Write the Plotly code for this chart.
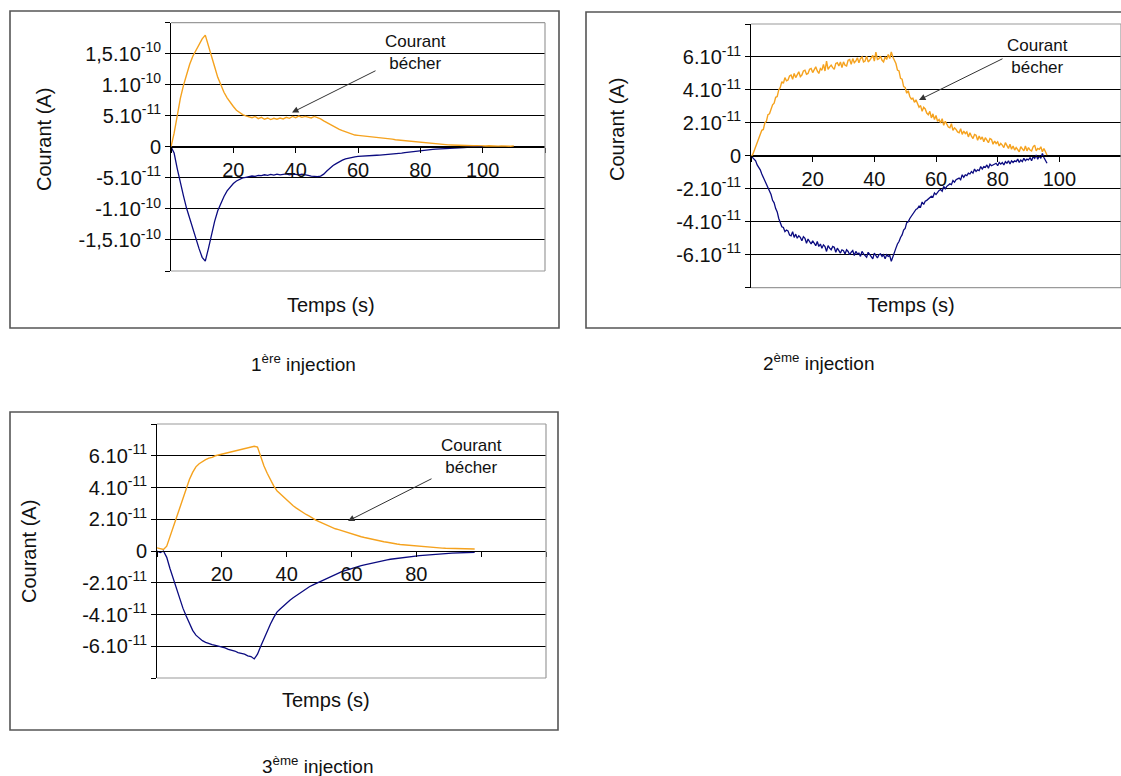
import plotly.graph_objects as go

W, H = 1121, 776
FONT = "Liberation Sans, Arial, sans-serif"
ORANGE = "#F5A21E"
NAVY = "#0B0B80"

# ---------------- data (current in units of 1e-11 A) ----------------
# Panel 1 : 1st injection, sampled every 1 s
STEP_1 = 1.0
ORANGE_1 = [
    0, 2.2, 5.0, 7.8, 9.9, 11.8, 13.3, 14.6, 15.5, 16.4,
    17.4, 18.0, 16.4, 14.6, 12.9, 11.2, 9.9, 8.8, 7.9, 7.1,
    6.5, 5.9, 5.5, 5.2, 5.0, 4.9, 4.7, 4.9, 4.55, 4.75,
    4.45, 4.65, 4.4, 4.6, 4.45, 4.65, 4.5, 4.75, 4.6, 4.9,
    4.7, 4.95, 4.75, 4.9, 4.8, 4.65, 4.9, 4.75, 4.5, 4.2,
    3.9, 3.6, 3.3, 3.1, 2.8, 2.6, 2.4, 2.2, 2.1, 1.9,
    1.85, 1.8, 1.75, 1.7, 1.6, 1.55, 1.6, 1.5, 1.45, 1.4,
    1.3, 1.25, 1.15, 1.1, 1.0, 0.95, 0.88, 0.82, 0.76, 0.7,
    0.65, 0.6, 0.56, 0.5, 0.48, 0.44, 0.4, 0.38, 0.34, 0.32,
    0.3, 0.27, 0.26, 0.24, 0.22, 0.2, 0.23, 0.18, 0.2, 0.16,
    0.19, 0.14, 0.17, 0.13, 0.16, 0.11, 0.15, 0.12, 0.14, 0.1, 0.15,
]
NAVY_1 = [
    0, -1.0, -3.5, -5.9, -7.9, -9.9, -11.6, -13.2, -14.8, -16.4,
    -17.8, -18.4, -16.4, -14.0, -12.0, -10.3, -9.0, -8.0, -7.1, -6.4,
    -5.9, -5.5, -5.2, -5.0, -4.9, -4.8, -4.7, -4.75, -4.6, -4.65,
    -4.5, -4.6, -4.45, -4.55, -4.4, -4.5, -4.45, -4.35, -4.5, -4.4,
    -4.45, -4.5, -4.4, -4.55, -4.6, -4.7, -4.75, -4.8, -4.7, -4.4,
    -3.9, -3.4, -3.0, -2.7, -2.4, -2.15, -1.95, -1.8, -1.7, -1.6,
    -1.55, -1.5, -1.52, -1.45, -1.42, -1.4, -1.35, -1.33, -1.3, -1.25,
    -1.2, -1.15, -1.1, -1.05, -1.0, -0.92, -0.85, -0.78, -0.72, -0.65,
    -0.6, -0.55, -0.5, -0.45, -0.4, -0.36, -0.32, -0.28, -0.25, -0.22,
    -0.2, -0.18, -0.16, -0.14, -0.12, -0.1, -0.09, -0.08, -0.07, -0.06,
    -0.05,
]

# Panel 2 : 2nd injection, sampled every 0.5 s
STEP_2 = 0.5
ORANGE_2 = [
    0.0, 0.05, 0.3, 0.55, 0.7, 1.05, 1.2, 1.55, 1.6, 2.0,
    2.1, 2.5, 2.55, 2.9, 3.1, 3.2, 3.55, 3.6, 4.0, 4.15,
    4.5, 4.4, 4.75, 4.55, 4.6, 4.85, 4.9, 4.65, 5.0, 4.75,
    4.95, 5.1, 4.8, 4.9, 5.15, 5.2, 4.95, 5.0, 5.25, 5.3,
    5.05, 5.25, 5.4, 5.15, 5.0, 5.3, 5.2, 5.55, 5.15, 5.75,
    5.25, 5.4, 5.5, 5.35, 5.25, 5.6, 5.65, 5.45, 5.7, 5.35,
    5.7, 5.5, 5.45, 5.8, 5.85, 5.55, 5.9, 5.65, 5.75, 5.95,
    5.65, 5.9, 6.0, 5.7, 5.75, 6.05, 5.7, 5.8, 6.0, 6.1,
    5.75, 6.3, 5.85, 5.9, 6.05, 5.8, 5.7, 6.0, 5.85, 6.15,
    5.9, 6.3, 6.0, 5.75, 5.6, 5.2, 5.15, 4.7, 4.65, 4.2,
    4.15, 3.8, 3.95, 3.6, 3.45, 3.5, 3.25, 3.4, 3.1, 2.95,
    3.05, 2.7, 2.95, 2.85, 2.6, 2.5, 2.7, 2.3, 2.55, 2.2,
    2.45, 2.1, 2.2, 2.0, 2.25, 1.85, 2.1, 1.95, 1.75, 1.7,
    1.95, 1.55, 1.7, 1.6, 1.45, 1.4, 1.65, 1.3, 1.5, 1.35,
    1.45, 1.15, 1.4, 1.2, 1.05, 1.3, 1.25, 0.95, 1.2, 1.0,
    1.15, 0.85, 1.1, 0.95, 0.8, 1.05, 1.0, 0.7, 0.9, 0.75,
    0.85, 0.6, 0.75, 0.65, 0.5, 0.8, 0.6, 0.45, 0.7, 0.4,
    0.6, 0.35, 0.5, 0.4, 0.25, 0.55, 0.45, 0.3, 0.6, 0.3,
    0.5, 0.35, 0.3, 0.55, 0.65, 0.3, 0.45, 0.4, 0.55, 0.25,
    0.45, 0.2, 0.05,
]
NAVY_2 = [
    0.0, -0.1, -0.25, -0.3, -0.55, -0.7, -0.85, -1.1, -1.3, -1.5,
    -1.75, -1.9, -2.2, -2.35, -2.7, -2.85, -3.2, -3.4, -3.8, -4.0,
    -4.3, -4.35, -4.6, -4.5, -4.55, -4.8, -4.85, -4.6, -4.95, -4.75,
    -5.0, -4.85, -4.95, -5.15, -4.9, -5.0, -5.3, -5.05, -5.2, -5.35,
    -5.15, -5.3, -5.45, -5.2, -5.5, -5.35, -5.6, -5.4, -5.5, -5.8,
    -5.45, -5.6, -5.7, -5.5, -5.55, -5.85, -5.6, -5.75, -5.9, -5.7,
    -5.75, -5.95, -5.7, -5.8, -6.0, -5.85, -5.75, -6.05, -5.8, -5.95,
    -5.9, -6.1, -5.8, -5.95, -6.05, -6.15, -5.85, -6.0, -6.1, -6.25,
    -5.9, -6.05, -6.2, -6.0, -5.95, -6.1, -6.0, -6.25, -6.0, -6.1,
    -6.05, -6.4, -6.1, -5.75, -5.6, -5.35, -5.2, -4.95, -4.8, -4.5,
    -4.4, -4.05, -4.0, -3.8, -3.65, -3.5, -3.4, -3.25, -3.2, -3.05,
    -3.1, -2.8, -2.95, -2.75, -2.7, -2.6, -2.55, -2.45, -2.5, -2.25,
    -2.35, -2.2, -2.1, -2.05, -2.15, -1.85, -2.0, -1.85, -1.8, -1.7,
    -1.75, -1.5, -1.6, -1.45, -1.4, -1.35, -1.45, -1.15, -1.3, -1.15,
    -1.2, -1.05, -1.1, -0.95, -1.05, -0.8, -0.95, -0.85, -0.9, -0.65,
    -0.8, -0.65, -0.7, -0.55, -0.75, -0.5, -0.6, -0.55, -0.55, -0.45,
    -0.6, -0.4, -0.5, -0.4, -0.55, -0.35, -0.45, -0.3, -0.5, -0.3,
    -0.4, -0.3, -0.35, -0.2, -0.4, -0.25, -0.35, -0.15, -0.3, -0.2,
    -0.25, -0.1, -0.3, -0.05, -0.15, 0.05, -0.2, 0.0, -0.15, 0.15,
    -0.1, -0.3, -0.45,
]

# Panel 3 : 3rd injection, sampled every 1 s
STEP_3 = 1.0
ORANGE_3 = [
    0.2, 0.15, 0.1, 0.3, 0.9, 1.5, 2.1, 2.75, 3.35, 3.95,
    4.5, 4.95, 5.3, 5.5, 5.65, 5.75, 5.85, 5.9, 6.0, 6.05,
    6.1, 6.15, 6.2, 6.25, 6.3, 6.35, 6.4, 6.45, 6.5, 6.55,
    6.6, 6.55, 5.9, 5.35, 4.9, 4.45, 4.1, 3.8, 3.6, 3.4,
    3.2, 3.0, 2.85, 2.7, 2.55, 2.4, 2.3, 2.2, 2.05, 1.95,
    1.85, 1.75, 1.65, 1.55, 1.5, 1.4, 1.35, 1.28, 1.2, 1.15,
    1.08, 1.02, 0.96, 0.9, 0.85, 0.8, 0.75, 0.7, 0.66, 0.62,
    0.58, 0.55, 0.5, 0.47, 0.44, 0.41, 0.39, 0.36, 0.34, 0.32,
    0.3, 0.28, 0.26, 0.24, 0.23, 0.21, 0.2, 0.19, 0.18, 0.17,
    0.17, 0.16, 0.16, 0.15, 0.15, 0.14, 0.14, 0.13, 0.13,
]
NAVY_3 = [
    0.0, -0.1, 0.0, -0.4, -1.1, -1.75, -2.4, -3.0, -3.6, -4.1,
    -4.6, -5.0, -5.3, -5.5, -5.65, -5.75, -5.85, -5.9, -5.95, -6.0,
    -6.05, -6.1, -6.2, -6.25, -6.3, -6.4, -6.45, -6.5, -6.6, -6.65,
    -6.8, -6.5, -6.0, -5.5, -5.05, -4.6, -4.2, -3.85, -3.65, -3.45,
    -3.25, -3.1, -2.95, -2.8, -2.65, -2.5, -2.4, -2.25, -2.15, -2.05,
    -1.95, -1.85, -1.75, -1.65, -1.55, -1.45, -1.38, -1.3, -1.23, -1.16,
    -1.1, -1.04, -0.98, -0.92, -0.87, -0.82, -0.77, -0.72, -0.68, -0.64,
    -0.6, -0.56, -0.52, -0.49, -0.46, -0.43, -0.4, -0.38, -0.35, -0.33,
    -0.31, -0.29, -0.27, -0.25, -0.23, -0.21, -0.2, -0.18, -0.17, -0.16,
    -0.15, -0.14, -0.13, -0.12, -0.11, -0.1, -0.1, -0.09, -0.08,
]

# Axis ticks and labels
X_TICKS = [0, 20, 40, 60, 80, 100, 120]
X_TEXT_12 = ["", "20", "40", "60", "80", "100", ""]
X_TEXT_3 = ["", "20", "40", "60", "80", "", ""]
Y_TICKS_1 = [-20, -15, -10, -5, 0, 5, 10, 15, 20]
Y_TEXT_1 = ["", "-1,5.10<sup>-10</sup>", "-1.10<sup>-10</sup>", "-5.10<sup>-11</sup>", "0",
            "5.10<sup>-11</sup>", "1.10<sup>-10</sup>", "1,5.10<sup>-10</sup>", ""]
Y_TICKS_23 = [-8, -6, -4, -2, 0, 2, 4, 6, 8]
Y_TEXT_23 = ["", "-6.10<sup>-11</sup>", "-4.10<sup>-11</sup>", "-2.10<sup>-11</sup>", "0",
             "2.10<sup>-11</sup>", "4.10<sup>-11</sup>", "6.10<sup>-11</sup>", ""]

AXIS_TITLE_Y = "Courant (A)"
AXIS_TITLE_X = "Temps (s)"
NOTE = "Courant<br>bécher"
CAPTIONS = ["1<sup>ère</sup> injection", "2<sup>ème</sup> injection", "3<sup>ème</sup> injection"]


def px(x):
    return x / W


def py(y):
    return 1 - y / H


def times(n, step):
    return [i * step for i in range(n)]


# panel geometry in pixels: plot area (x0, x1, y0, y1) and frame
PANELS = [
    dict(plot=(171, 545, 22.7, 271), frame=(10, 559, 11, 328), yr=20,
         yt=Y_TICKS_1, ytt=Y_TEXT_1, xtt=X_TEXT_12,
         series=(ORANGE_1, NAVY_1, STEP_1),
         ytitle=(44, 140), xtitle=(331, 305), caption=(303, 363),
         note=(415, 53), arrow=((377, 70), (292, 112.5))),
    dict(plot=(751, 1121, 24, 287.7), frame=(586, 1130, 12, 328), yr=8,
         yt=Y_TICKS_23, ytt=Y_TEXT_23, xtt=X_TEXT_12,
         series=(ORANGE_2, NAVY_2, STEP_2),
         ytitle=(617, 130), xtitle=(911, 305), caption=(818, 362),
         note=(1037, 57), arrow=((1004, 58), (919, 100))),
    dict(plot=(157, 546, 424, 678), frame=(10, 558, 412, 730), yr=8,
         yt=Y_TICKS_23, ytt=Y_TEXT_23, xtt=X_TEXT_3,
         series=(ORANGE_3, NAVY_3, STEP_3),
         ytitle=(29, 552), xtitle=(326, 700), caption=(317, 765),
         note=(471, 456), arrow=((433, 478), (348, 521))),
]

fig = go.Figure()
layout = dict(
    width=W, height=H, margin=dict(l=0, r=0, t=0, b=0),
    paper_bgcolor="white", plot_bgcolor="white", showlegend=False,
    font=dict(family=FONT, color="#111111", size=20),
)
shapes = []
annotations = []

for i, p in enumerate(PANELS, start=1):
    sfx = "" if i == 1 else str(i)
    x0, x1, y0, y1 = p["plot"]
    orange, navy, step = p["series"]
    fig.add_trace(go.Scatter(x=times(len(orange), step), y=orange, mode="lines",
                             line=dict(color=ORANGE, width=1.4),
                             xaxis="x" + sfx, yaxis="y" + sfx))
    fig.add_trace(go.Scatter(x=times(len(navy), step), y=navy, mode="lines",
                             line=dict(color=NAVY, width=1.3),
                             xaxis="x" + sfx, yaxis="y" + sfx))
    mid = (py(y0) + py(y1)) / 2
    layout["xaxis" + sfx] = dict(
        domain=[px(x0), min(px(x1), 1.0)], range=[0, 120],
        tickmode="array", tickvals=X_TICKS, ticktext=p["xtt"],
        ticks="outside", ticklen=5, tickcolor="black", showline=True,
        linecolor="black", linewidth=1, showgrid=False, zeroline=False,
        anchor="free", position=mid, tickfont=dict(size=20, family=FONT),
        ticklabelstandoff=0,
    )
    layout["yaxis" + sfx] = dict(
        domain=[py(y1), py(y0)], range=[-p["yr"], p["yr"]],
        tickmode="array", tickvals=p["yt"], ticktext=p["ytt"],
        ticks="outside", ticklen=5, tickcolor="black", showline=True,
        linecolor="black", linewidth=1, showgrid=True, gridcolor="black",
        gridwidth=1, zeroline=False, anchor="x" + sfx,
        tickfont=dict(size=20, family=FONT),
    )
    # grey plot-area border (top, bottom, right)
    for (ax0, ay0, ax1, ay1) in [(x0, y0, x1, y0), (x0, y1, x1, y1), (x1, y0, x1, y1)]:
        shapes.append(dict(type="line", xref="paper", yref="paper",
                           x0=px(ax0), y0=py(ay0), x1=px(ax1), y1=py(ay1),
                           line=dict(color="#9a9a9a", width=1.2), layer="above"))
    # outer frame
    fx0, fx1, fy0, fy1 = p["frame"]
    shapes.append(dict(type="rect", xref="paper", yref="paper",
                       x0=px(fx0), y0=py(fy1), x1=px(fx1), y1=py(fy0),
                       line=dict(color="#555555", width=1.6), layer="above"))
    annotations.append(dict(xref="paper", yref="paper", x=px(p["ytitle"][0]), y=py(p["ytitle"][1]),
                            text=AXIS_TITLE_Y, textangle=-90, showarrow=False,
                            xanchor="center", yanchor="middle", font=dict(size=20)))
    annotations.append(dict(xref="paper", yref="paper", x=px(p["xtitle"][0]), y=py(p["xtitle"][1]),
                            text=AXIS_TITLE_X, showarrow=False,
                            xanchor="center", yanchor="middle", font=dict(size=20)))
    annotations.append(dict(xref="paper", yref="paper", x=px(p["caption"][0]), y=py(p["caption"][1]),
                            text=CAPTIONS[i - 1], showarrow=False,
                            xanchor="center", yanchor="middle", font=dict(size=19)))
    annotations.append(dict(xref="paper", yref="paper", x=px(p["note"][0]), y=py(p["note"][1]),
                            text=NOTE, showarrow=False, align="center",
                            xanchor="center", yanchor="middle", font=dict(size=17)))
    (tx, ty), (hx, hy) = p["arrow"]
    annotations.append(dict(xref="paper", yref="paper", x=px(hx), y=py(hy),
                            ax=tx - hx, ay=ty - hy, axref="pixel", ayref="pixel",
                            text="", showarrow=True, arrowhead=2, arrowsize=1.3,
                            arrowwidth=1, arrowcolor="#333333", standoff=0, startstandoff=0))

layout["shapes"] = shapes
layout["annotations"] = annotations
fig.update_layout(**layout)

fig.write_html("out.html", config={"displayModeBar": False},
               post_script="document.body.style.margin='0';document.body.style.overflow='hidden';")
